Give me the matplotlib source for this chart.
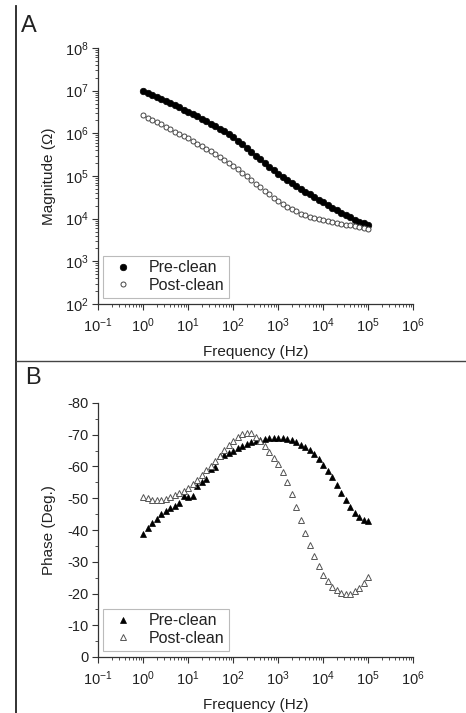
import numpy as np
import matplotlib
matplotlib.use("Agg")
import matplotlib.pyplot as plt
from matplotlib.lines import Line2D
from matplotlib.ticker import LogLocator, MultipleLocator, NullFormatter

plt.rcParams['font.family'] = ['Liberation Sans', 'DejaVu Sans']
plt.rcParams['mathtext.fontset'] = 'custom'
plt.rcParams['mathtext.rm'] = 'Liberation Sans'
plt.rcParams['mathtext.it'] = 'Liberation Sans:italic'
plt.rcParams['mathtext.bf'] = 'Liberation Sans:bold'
plt.rcParams['axes.unicode_minus'] = False

# ---------------- data ----------------
log_freq_start = 0
log_freq_stop = 5
n_points = 51
freq = np.logspace(log_freq_start, log_freq_stop, n_points)

mag_pre = [1.00e7, 8.91e6, 7.94e6, 7.08e6, 6.46e6, 5.75e6, 5.13e6, 4.57e6, 4.07e6, 3.55e6,
           3.16e6, 2.82e6, 2.51e6, 2.19e6, 1.95e6, 1.70e6, 1.48e6, 1.29e6, 1.12e6, 9.55e5,
           8.32e5, 6.76e5, 5.50e5, 4.47e5, 3.72e5, 3.02e5, 2.45e5, 2.04e5, 1.66e5, 1.38e5,
           1.12e5, 9.55e4, 8.13e4, 6.92e4, 5.89e4, 5.01e4, 4.27e4, 3.72e4, 3.16e4, 2.75e4,
           2.40e4, 2.09e4, 1.82e4, 1.58e4, 1.38e4, 1.20e4, 1.07e4, 9.55e3, 8.51e3, 7.76e3,
           7.08e3]
mag_post = [2.63e6, 2.34e6, 2.09e6, 1.82e6, 1.62e6, 1.41e6, 1.26e6, 1.10e6, 9.77e5, 8.51e5,
            7.59e5, 6.61e5, 5.75e5, 5.01e5, 4.37e5, 3.80e5, 3.24e5, 2.82e5, 2.40e5, 2.04e5,
            1.74e5, 1.45e5, 1.20e5, 9.77e4, 8.13e4, 6.61e4, 5.50e4, 4.47e4, 3.72e4, 3.09e4,
            2.57e4, 2.19e4, 1.91e4, 1.66e4, 1.48e4, 1.32e4, 1.20e4, 1.12e4, 1.05e4, 9.77e3,
            9.12e3, 8.71e3, 8.32e3, 7.94e3, 7.59e3, 7.24e3, 6.92e3, 6.61e3, 6.31e3, 6.03e3,
            5.75e3]

phase_pre = [-38.6, -40.6, -42.2, -43.6, -44.9, -46.0, -46.8, -47.6, -48.6, -50.6,
             -50.4, -50.8, -53.8, -55.0, -56.0, -59.2, -59.7, -63.4, -63.7, -64.3,
             -65.0, -65.7, -66.4, -67.0, -67.6, -68.1, -68.5, -68.8, -69.0, -69.1,
             -69.1, -69.0, -68.8, -68.5, -67.8, -66.9, -66.2, -65.2, -64.0, -62.4,
             -60.6, -58.6, -56.6, -54.2, -51.8, -49.4, -47.2, -45.5, -44.2, -43.3,
             -42.7]
phase_post = [-50.5, -50.0, -49.6, -49.5, -49.6, -49.9, -50.4, -50.9, -51.5, -52.3,
              -53.3, -54.4, -55.7, -57.2, -58.8, -60.3, -61.6, -63.2, -65.3, -66.7,
              -68.0, -69.3, -70.2, -70.7, -70.6, -69.4, -67.9, -66.3, -64.6, -62.8,
              -60.8, -58.2, -55.0, -51.4, -47.2, -43.2, -39.2, -35.3, -31.8, -28.6,
              -25.9, -23.8, -22.2, -21.0, -20.2, -19.9, -20.0, -20.7, -21.6, -23.2,
              -25.3]

series_labels = ["Pre-clean", "Post-clean"]
panel_letters = ["A", "B"]
x_label = "Frequency (Hz)"
y_label_a = "Magnitude (\u03a9)"
y_label_b = "Phase (Deg.)"

# ---------------- figure ----------------
W, H = 466, 713
fig = plt.figure(figsize=(W / 100, H / 100), dpi=100)

def fx(px):
    return px / W

def fy(py):
    return 1 - py / H

axA = fig.add_axes([fx(98), fy(304), fx(413) - fx(98), fy(48) - fy(304)])
axB = fig.add_axes([fx(98), fy(657), fx(413) - fx(98), fy(403) - fy(657)])

spine_col = '#333333'
text_col = '#222222'

def style(ax):
    for s in ['top', 'right']:
        ax.spines[s].set_visible(False)
    for s in ['left', 'bottom']:
        ax.spines[s].set_color(spine_col)
        ax.spines[s].set_linewidth(0.9)
    ax.set_xscale('log')
    ax.set_xlim(1e-1, 1e6)
    ax.xaxis.set_major_locator(LogLocator(base=10, numticks=20))
    ax.xaxis.set_minor_locator(LogLocator(base=10, subs=np.arange(2, 10), numticks=20))
    ax.xaxis.set_minor_formatter(NullFormatter())
    ax.tick_params(axis='both', which='major', direction='out', length=4, width=0.8,
                   colors=spine_col, labelcolor=text_col, labelsize=10.5)
    ax.tick_params(axis='both', which='minor', direction='out', length=2.2, width=0.6,
                   colors=spine_col)
    ax.tick_params(axis='x', which='major', pad=5)
    ax.tick_params(axis='y', which='major', pad=3)
    ax.set_xlabel(x_label, fontsize=11, color=text_col, labelpad=7)
    ax.set_facecolor('white')

# Panel A
style(axA)
axA.plot(freq, mag_pre, linestyle='none', marker='o', markersize=4.7,
         markerfacecolor='black', markeredgecolor='black', markeredgewidth=0.5,
         label=series_labels[0])
axA.plot(freq, mag_post, linestyle='none', marker='o', markersize=3.6,
         markerfacecolor='white', markeredgecolor='#444444', markeredgewidth=0.7,
         label=series_labels[1])
axA.set_yscale('log')
axA.set_ylim(1e2, 1e8)
axA.yaxis.set_major_locator(LogLocator(base=10, numticks=20))
axA.yaxis.set_minor_locator(LogLocator(base=10, subs=np.arange(2, 10), numticks=20))
axA.yaxis.set_minor_formatter(NullFormatter())
axA.set_ylabel(y_label_a, fontsize=11, color=text_col, labelpad=6)

# Panel B
style(axB)
axB.plot(freq, phase_pre, linestyle='none', marker='^', markersize=4.9,
         markerfacecolor='black', markeredgecolor='black', markeredgewidth=0.5,
         label=series_labels[0])
axB.plot(freq, phase_post, linestyle='none', marker='^', markersize=4.9,
         markerfacecolor='white', markeredgecolor='#555555', markeredgewidth=0.7,
         label=series_labels[1])
axB.set_ylim(0, -80)
axB.yaxis.set_major_locator(MultipleLocator(10))
axB.yaxis.set_minor_locator(MultipleLocator(5))
axB.set_ylabel(y_label_b, fontsize=11, color=text_col, labelpad=8)

for ax in (axA, axB):
    leg = ax.legend(loc='lower left', bbox_to_anchor=(0.015, 0.025), frameon=True,
                    fancybox=False, edgecolor='#aaaaaa', fontsize=11.5,
                    borderpad=0.3, labelspacing=0.15, handlelength=2.0,
                    handletextpad=0.6, borderaxespad=0.0, markerscale=1.0)
    leg.get_frame().set_linewidth(0.8)
    for t in leg.get_texts():
        t.set_color(text_col)

# Panel letters and separator lines
fig.text(fx(21), fy(32), panel_letters[0], fontsize=17, color=text_col, ha='left', va='baseline')
fig.text(fx(25), fy(384), panel_letters[1], fontsize=17, color=text_col, ha='left', va='baseline')
fig.add_artist(Line2D([fx(15.7), fx(15.7)], [fy(6), 0], transform=fig.transFigure,
                      color='#222222', lw=1.3))
fig.add_artist(Line2D([fx(15.7), 1], [fy(361), fy(361)], transform=fig.transFigure,
                      color='#444444', lw=1.0))

fig.savefig('out.png', dpi=100, facecolor='white')
